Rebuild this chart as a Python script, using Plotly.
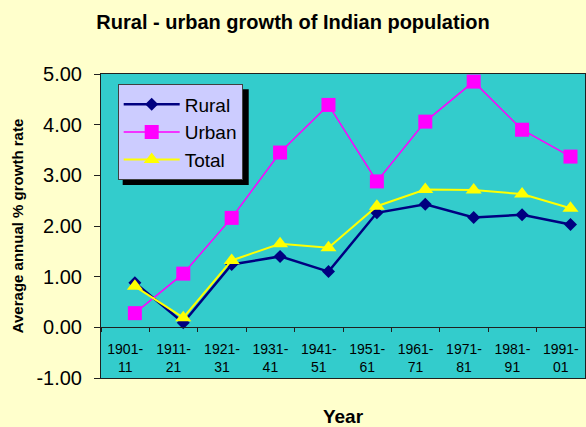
import plotly.graph_objects as go

periods = ["1901-11", "1911-21", "1921-31", "1931-41", "1941-51",
           "1951-61", "1961-71", "1971-81", "1981-91", "1991-01"]
tick_labels = ["1901-<br>11", "1911-<br>21", "1921-<br>31", "1931-<br>41", "1941-<br>51",
               "1951-<br>61", "1961-<br>71", "1971-<br>81", "1981-<br>91", "1991-<br>01"]
rural = [0.88, 0.09, 1.24, 1.40, 1.10, 2.26, 2.43, 2.17, 2.22, 2.03]
urban = [0.28, 1.06, 2.16, 3.45, 4.39, 2.88, 4.06, 4.85, 3.90, 3.37]
total = [0.81, 0.19, 1.32, 1.65, 1.57, 2.39, 2.72, 2.71, 2.63, 2.35]
y_ticks = [-1, 0, 1, 2, 3, 4, 5]
y_tick_labels = ["-1.00", "0.00", "1.00", "2.00", "3.00", "4.00", "5.00"]

FONT = "Arial, Liberation Sans, sans-serif"
DARK = "#202020"

fig = go.Figure()
# category-label axis (the y=0 axis line with labels); carries no visible marks
fig.add_trace(go.Scatter(x=tick_labels, y=[None] * len(tick_labels), xaxis="x2",
                         mode="lines", showlegend=False, hoverinfo="skip"))
fig.add_trace(go.Scatter(x=periods, y=rural, name="Rural", mode="lines+markers",
                         line=dict(color="#000080", width=2.5),
                         marker=dict(symbol="diamond", size=10, color="#000080")))
fig.add_trace(go.Scatter(x=periods, y=urban, name="Urban", mode="lines+markers",
                         line=dict(color="#FF00FF", width=1.5),
                         marker=dict(symbol="square", size=14, color="#FF00FF")))
fig.add_trace(go.Scatter(x=periods, y=total, name="Total", mode="lines+markers",
                         line=dict(color="#FFFF00", width=2),
                         marker=dict(symbol="triangle-up", size=14, color="#FFFF00")))

# legend shadow
fig.add_shape(type="rect", xref="paper", yref="paper",
              x0=0.0448, x1=0.3052, y0=0.635, y1=0.9497,
              fillcolor="black", line=dict(width=0), layer="below")

fig.update_layout(
    width=586, height=427,
    margin=dict(l=101, r=1, t=74, b=49, autoexpand=False),
    paper_bgcolor="#FFFFCC",
    plot_bgcolor="#33CCCC",
    font=dict(family=FONT, color="black"),
    title=dict(text="<b>Rural - urban growth of Indian population</b>",
               x=0.5, xanchor="center", y=0.948, yanchor="middle",
               font=dict(size=20, family=FONT, color="black")),
    showlegend=True,
    legend=dict(x=0.0345, y=0.966, xanchor="left", yanchor="top",
                bgcolor="#CCCCFF", bordercolor="#404040", borderwidth=1,
                font=dict(size=19, family=FONT, color="black"),
                itemwidth=56),
    xaxis=dict(type="category", range=[-0.7, 9.3], showticklabels=False,
               ticks="", showgrid=False, zeroline=False,
               showline=True, linecolor=DARK, linewidth=1, mirror=True,
               title=dict(text="<b>Year</b>", font=dict(size=19, family=FONT, color="black"),
                          standoff=32)),
    xaxis2=dict(type="category", overlaying="x", anchor="free", position=1/6,
                range=[-0.5, 9.5], tickson="boundaries",
                ticks="outside", ticklen=4, tickcolor=DARK, showgrid=False, zeroline=False,
                showline=True, linecolor=DARK, linewidth=1, ticklabelstandoff=9,
                tickfont=dict(size=14, family=FONT, color="black")),
    yaxis=dict(range=[-1, 5], tickmode="array", tickvals=y_ticks, ticktext=y_tick_labels,
               ticks="outside", ticklen=6, tickcolor=DARK, showgrid=False, zeroline=False,
               showline=True, linecolor=DARK, linewidth=1, mirror=True,
               ticklabelstandoff=8,
               tickfont=dict(size=20, family=FONT, color="black"),
               title=dict(text="<b>Average annual % growth rate</b>",
                          font=dict(size=15, family=FONT, color="black"), standoff=9)),
)

fig.write_html("out.html",
               config={"displayModeBar": False},
               post_script="document.body.style.margin='0';"
                           "document.body.style.background='#FFFFCC';")
